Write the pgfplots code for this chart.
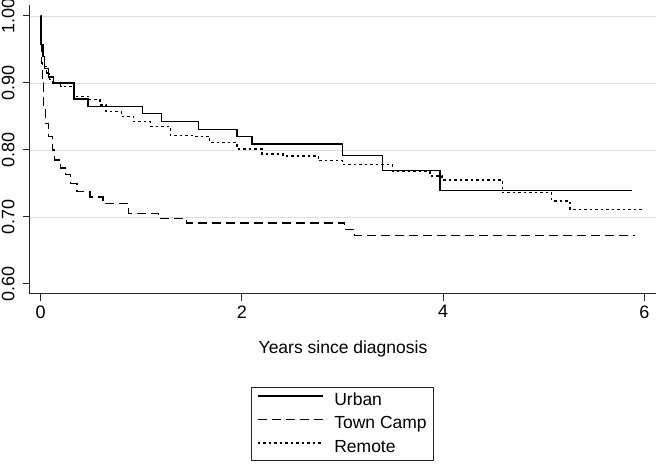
\documentclass[border=0pt]{standalone}
\usepackage{pgfplots}
\pgfplotsset{compat=1.18}
\usepackage{fontspec}
\setmainfont{Liberation Sans}
\definecolor{gridgray}{HTML}{DDDDDD}
\begin{document}
\begin{tikzpicture}[x=1pt,y=1pt]
\useasboundingbox (-30,-176) rectangle (626,294);
\begin{axis}[
  at={(0,0)}, anchor=south west,
  scale only axis, width=626pt, height=289pt,
  xmin=-0.106, xmax=6.116, ymin=0.585, ymax=1.0164,
  axis x line=bottom, axis y line=left,
  axis line style={-, line width=1pt, black!85},
  xtick={0,2,4,6},
  ytick={0.7,0.8,0.9,1.0},
  extra y ticks={0.6},
  extra y tick style={grid=none},
  ymajorgrids,
  grid style={gridgray, line width=0.9pt},
  tick style={black!85, line width=1pt},
  tick align=outside,
  major tick length=7pt,
  yticklabel shift=5pt,
  yticklabel style={rotate=90, anchor=south, /pgf/number format/.cd, fixed, fixed zerofill, precision=2},
  /pgf/number format/assume math mode=true,
  ticklabel style={font=\fontsize{18}{20}\selectfont},
  xticklabel style={yshift=-1pt},
  xlabel={Years since diagnosis},
  xlabel style={font=\fontsize{17.5}{20}\selectfont, yshift=-16pt},
  legend style={at={(0.499,-0.322)}, anchor=north, draw=black!85, line width=0.9pt,
    font=\fontsize{17.5}{20}\selectfont, inner xsep=6pt, inner ysep=5pt, row sep=7.5pt,
    nodes={inner ysep=0pt, inner xsep=1pt, text height=12.5pt, text depth=3.5pt},
    /tikz/every odd column/.append style={column sep=10pt},
    /tikz/every even column/.append style={column sep=8pt}},
  legend cell align=left,
  legend image code/.code={\draw[#1] (0pt,4.5pt) -- (65pt,4.5pt);},
]
\addplot[const plot, black, line width=1.3pt] coordinates {
(0,1.000) (0.003,0.957) (0.023,0.939) (0.04,0.922) (0.08,0.909) (0.13,0.900)
(0.33,0.876) (0.47,0.865) (1.01,0.854) (1.20,0.843) (1.57,0.831) (1.95,0.820)
(2.10,0.809) (3.00,0.7915) (3.40,0.769) (3.97,0.739) (5.88,0.739)};
\addlegendentry{Urban}
\addplot[const plot, black, line width=1.3pt, dash pattern=on 9pt off 5pt] coordinates {
(0,1.000) (0.003,0.96) (0.008,0.93) (0.015,0.90) (0.03,0.86) (0.05,0.84) (0.08,0.82)
(0.12,0.80) (0.14,0.785) (0.2,0.773) (0.25,0.763) (0.30,0.75) (0.36,0.738)
(0.49,0.730) (0.62,0.72) (0.87,0.7055) (1.17,0.698) (1.45,0.691) (3.02,0.681)
(3.12,0.672) (5.91,0.672)};
\addlegendentry{Town Camp}
\addplot[const plot, black, line width=1.3pt, dash pattern=on 2.5pt off 3pt] coordinates {
(0,1.000) (0.01,0.95) (0.02,0.94) (0.04,0.925) (0.06,0.915) (0.09,0.905) (0.12,0.90)
(0.2,0.895) (0.33,0.88) (0.49,0.875) (0.59,0.867) (0.65,0.857) (0.80,0.850)
(0.92,0.842) (1.09,0.835) (1.29,0.822) (1.52,0.820) (1.68,0.811) (1.95,0.8015)
(2.20,0.794) (2.41,0.791) (2.76,0.784) (3.00,0.778) (3.50,0.768) (3.87,0.761)
(3.99,0.755) (4.59,0.736) (5.08,0.724) (5.26,0.711) (5.99,0.711)};
\addlegendentry{Remote}
\end{axis}
\end{tikzpicture}
\end{document}
